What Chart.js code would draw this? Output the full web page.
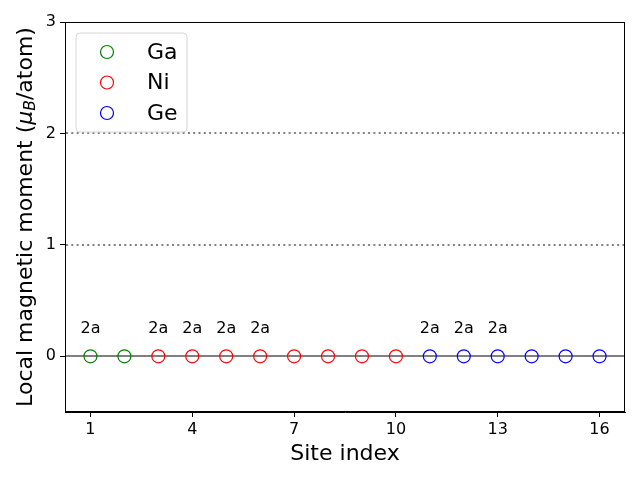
<!DOCTYPE html>
<html>
<head>
<meta charset="utf-8">
<script src="https://cdn.jsdelivr.net/npm/chart.js@4.4.1/dist/chart.umd.min.js"></script>
<style>
  html, body { margin: 0; padding: 0; background: #fff; }
  #wrap { width: 640px; height: 480px; }
</style>
</head>
<body>
<div id="wrap"><canvas id="c" width="640" height="480"></canvas></div>
<script>
const FONT = '"DejaVu Sans", sans-serif';

// site indices and local moments per species
const gaSites = [1, 2];
const gaMoments = [0, 0];
const niSites = [3, 4, 5, 6, 7, 8, 9, 10];
const niMoments = [0, 0, 0, 0, 0, 0, 0, 0];
const geSites = [11, 12, 13, 14, 15, 16];
const geMoments = [0, 0, 0, 0, 0, 0];

// Wyckoff labels shown above some sites
const labelSites = [1, 3, 4, 5, 6, 11, 12, 13];
const labelText = '2a';
const labelY = 0.2;

const xTicks = [1, 4, 7, 10, 13, 16];
const yTicks = [0, 1, 2, 3];
const dottedLevels = [1, 2];
const baseLevel = 0;

const species = ['Ga', 'Ni', 'Ge'];
const speciesColors = ['#008000', '#ff0000', '#0000ff'];

function pts(xs, ys) { return xs.map((x, i) => ({ x, y: ys[i] })); }

function ds(label, data, color) {
  return {
    label, data,
    showLine: false,
    pointRadius: 6.5,
    pointHoverRadius: 6.5,
    pointBorderWidth: 1.2,
    pointBorderColor: color,
    pointBackgroundColor: 'rgba(0,0,0,0)',
    borderColor: color,
    backgroundColor: 'rgba(0,0,0,0)'
  };
}

const decor = {
  id: 'decor',
  beforeDatasetsDraw(chart) {
    const { ctx, chartArea: a, scales: { x, y } } = chart;
    ctx.save();
    ctx.strokeStyle = '#808080';
    ctx.lineWidth = 2;
    ctx.setLineDash([2, 3.3]);
    dottedLevels.forEach(v => {
      const py = Math.round(y.getPixelForValue(v));
      ctx.beginPath(); ctx.moveTo(a.left + 1, py); ctx.lineTo(a.right, py); ctx.stroke();
    });
    ctx.setLineDash([]);
    ctx.lineWidth = 2;
    const p0 = Math.round(y.getPixelForValue(baseLevel));
    ctx.beginPath(); ctx.moveTo(a.left, p0); ctx.lineTo(a.right, p0); ctx.stroke();

    ctx.fillStyle = '#000';
    ctx.font = '16px ' + FONT;
    ctx.textAlign = 'center';
    ctx.textBaseline = 'bottom';
    labelSites.forEach(s => {
      ctx.fillText(labelText, x.getPixelForValue(s), y.getPixelForValue(labelY) + 3);
    });
    ctx.restore();
  },
  afterDraw(chart) {
    const { ctx, chartArea: a } = chart;
    ctx.save();
    // frame
    ctx.strokeStyle = '#000';
    ctx.lineWidth = 1;
    ctx.strokeRect(Math.round(a.left) + 0.5, Math.round(a.top) + 0.5,
      Math.round(a.right - a.left) - 1, Math.round(a.bottom - a.top) - 1);

    // legend
    const lx = 76, ly = 33, lw = 111, lh = 99, r = 4;
    ctx.beginPath();
    ctx.moveTo(lx + r, ly);
    ctx.arcTo(lx + lw, ly, lx + lw, ly + lh, r);
    ctx.arcTo(lx + lw, ly + lh, lx, ly + lh, r);
    ctx.arcTo(lx, ly + lh, lx, ly, r);
    ctx.arcTo(lx, ly, lx + lw, ly, r);
    ctx.closePath();
    ctx.fillStyle = 'rgba(255,255,255,0.8)';
    ctx.fill();
    ctx.strokeStyle = '#d6d6d6';
    ctx.lineWidth = 1;
    ctx.stroke();
    ctx.font = '22px ' + FONT;
    ctx.textAlign = 'left';
    ctx.textBaseline = 'middle';
    species.forEach((name, i) => {
      const cy = 52 + i * 30.5;
      ctx.beginPath();
      ctx.arc(107, cy, 6.5, 0, Math.PI * 2);
      ctx.strokeStyle = speciesColors[i];
      ctx.lineWidth = 1.2;
      ctx.stroke();
      ctx.fillStyle = '#000';
      ctx.fillText(name, 147, cy + 1);
    });

    // x title
    ctx.font = '22px ' + FONT;
    ctx.textAlign = 'center';
    ctx.textBaseline = 'middle';
    ctx.fillText('Site index', (a.left + a.right) / 2, 454);

    // y title with mu_B
    const parts = [
      { t: 'Local magnetic moment (', f: '22px ' + FONT, dy: 0 },
      { t: 'μ', f: 'italic 22px ' + FONT, dy: 0 },
      { t: 'B', f: 'italic 15.5px ' + FONT, dy: 5 },
      { t: '/atom)', f: '22px ' + FONT, dy: 0 }
    ];
    let total = 0;
    parts.forEach(p => { ctx.font = p.f; p.w = ctx.measureText(p.t).width; total += p.w; });
    ctx.translate(26, (a.top + a.bottom) / 2);
    ctx.rotate(-Math.PI / 2);
    ctx.textAlign = 'left';
    ctx.textBaseline = 'middle';
    let cx = -total / 2;
    parts.forEach(p => { ctx.font = p.f; ctx.fillText(p.t, cx, p.dy); cx += p.w; });
    ctx.restore();
  }
};

new Chart(document.getElementById('c').getContext('2d'), {
  type: 'scatter',
  data: {
    datasets: [
      ds(species[0], pts(gaSites, gaMoments), speciesColors[0]),
      ds(species[1], pts(niSites, niMoments), speciesColors[1]),
      ds(species[2], pts(geSites, geMoments), speciesColors[2])
    ]
  },
  options: {
    responsive: false,
    animation: false,
    layout: { padding: { top: 22, right: 15, left: 0, bottom: 0 } },
    plugins: { legend: { display: false }, tooltip: { enabled: false } },
    scales: {
      x: {
        type: 'linear', min: 0.25, max: 16.75,
        afterBuildTicks: s => { s.ticks = xTicks.map(v => ({ value: v })); },
        afterFit: s => { s.height = 68; },
        ticks: { color: '#000', font: { family: FONT, size: 16 }, padding: 3, maxRotation: 0 },
        grid: { drawOnChartArea: false, drawTicks: true, tickLength: 5, color: '#000' },
        border: { display: true, color: '#000' }
      },
      y: {
        type: 'linear', min: -0.5, max: 3,
        afterBuildTicks: s => { s.ticks = yTicks.map(v => ({ value: v })); },
        afterFit: s => { s.width = 65; },
        ticks: { color: '#000', font: { family: FONT, size: 16 }, padding: 4 },
        grid: { drawOnChartArea: false, drawTicks: true, tickLength: 5, color: '#000' },
        border: { display: true, color: '#000' }
      }
    }
  },
  plugins: [decor]
});
</script>
</body>
</html>
